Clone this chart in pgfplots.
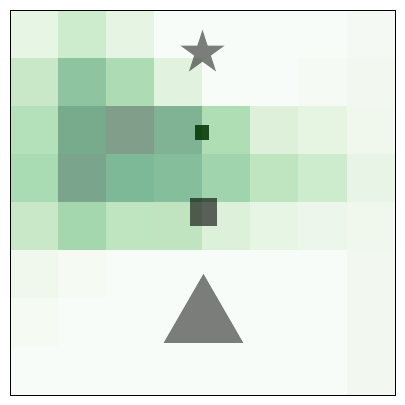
\documentclass[border=0pt]{standalone}
\usepackage{pgfplots}
\pgfplotsset{compat=1.18}
\pgfdeclareplotmark{fstar}{%
  \pgfpathmoveto{\pgfqpointpolar{90}{\pgfplotmarksize}}%
  \pgfpathlineto{\pgfqpointpolar{126}{0.382\pgfplotmarksize}}%
  \pgfpathlineto{\pgfqpointpolar{162}{\pgfplotmarksize}}%
  \pgfpathlineto{\pgfqpointpolar{198}{0.382\pgfplotmarksize}}%
  \pgfpathlineto{\pgfqpointpolar{234}{\pgfplotmarksize}}%
  \pgfpathlineto{\pgfqpointpolar{270}{0.382\pgfplotmarksize}}%
  \pgfpathlineto{\pgfqpointpolar{306}{\pgfplotmarksize}}%
  \pgfpathlineto{\pgfqpointpolar{342}{0.382\pgfplotmarksize}}%
  \pgfpathlineto{\pgfqpointpolar{18}{\pgfplotmarksize}}%
  \pgfpathlineto{\pgfqpointpolar{54}{0.382\pgfplotmarksize}}%
  \pgfpathclose
  \pgfusepathqfill
}
\begin{document}
\begin{tikzpicture}
\begin{axis}[
  scale only axis, width=10cm, height=10cm,
  xmin=-0.5, xmax=7.5, ymin=-0.5, ymax=7.5, y dir=reverse,
  xtick=\empty, ytick=\empty,
  axis line style={black, line width=0.6pt},
  axis on top,
]
\addplot[matrix plot*, mesh/cols=8, mesh/color input=explicit, point meta=explicit symbolic] table[meta=c] {
x y c
0 0 rgb255=231,245,228
1 0 rgb255=205,235,205
2 0 rgb255=230,244,228
3 0 rgb255=248,252,248
4 0 rgb255=248,252,248
5 0 rgb255=248,252,248
6 0 rgb255=248,252,248
7 0 rgb255=244,250,243
0 1 rgb255=200,232,200
1 1 rgb255=143,196,160
2 1 rgb255=173,220,180
3 1 rgb255=225,243,222
4 1 rgb255=248,252,248
5 1 rgb255=248,252,248
6 1 rgb255=245,251,244
7 1 rgb255=242,248,240
0 2 rgb255=180,225,185
1 2 rgb255=120,170,140
2 2 rgb255=128,158,138
3 2 rgb255=128,178,148
4 2 rgb255=175,222,180
5 2 rgb255=222,240,218
6 2 rgb255=230,245,225
7 2 rgb255=240,248,238
0 3 rgb255=170,220,180
1 3 rgb255=122,165,140
2 3 rgb255=125,185,150
3 3 rgb255=132,190,155
4 3 rgb255=160,212,172
5 3 rgb255=190,228,192
6 3 rgb255=205,235,205
7 3 rgb255=232,245,230
0 4 rgb255=200,232,200
1 4 rgb255=165,215,175
2 4 rgb255=190,228,192
3 4 rgb255=192,228,192
4 4 rgb255=220,240,218
5 4 rgb255=230,245,228
6 4 rgb255=236,246,234
7 4 rgb255=240,248,238
0 5 rgb255=240,248,238
1 5 rgb255=245,250,243
2 5 rgb255=248,252,248
3 5 rgb255=248,252,248
4 5 rgb255=248,252,248
5 5 rgb255=248,252,248
6 5 rgb255=248,252,248
7 5 rgb255=242,248,240
0 6 rgb255=245,250,243
1 6 rgb255=248,252,248
2 6 rgb255=248,252,248
3 6 rgb255=248,252,248
4 6 rgb255=248,252,248
5 6 rgb255=248,252,248
6 6 rgb255=248,252,248
7 6 rgb255=242,248,240
0 7 rgb255=248,252,248
1 7 rgb255=248,252,248
2 7 rgb255=248,252,248
3 7 rgb255=248,252,248
4 7 rgb255=248,252,248
5 7 rgb255=248,252,248
6 7 rgb255=248,252,248
7 7 rgb255=242,248,240
};
\addplot[only marks, mark=fstar, mark size=17pt, mark options={fill=black, fill opacity=0.5, draw opacity=0}] coordinates {(3.5,0.39)};
\addplot[only marks, mark=square*, mark size=5.5pt, mark options={fill=black!80!green, fill opacity=0.85, draw opacity=0}] coordinates {(3.49,2.05)};
\addplot[only marks, mark=square*, mark size=10.3pt, mark options={fill=black, fill opacity=0.6, draw opacity=0}] coordinates {(3.52,3.69)};
\addplot[only marks, mark=triangle*, mark size=34pt, mark options={fill=black, fill opacity=0.5, draw opacity=0}] coordinates {(3.52,5.94)};
\end{axis}
\path (current axis.south west) ++(-0.26cm,-0.26cm);
\path (current axis.north east) ++(0.26cm,0.26cm);
\end{tikzpicture}
\end{document}
